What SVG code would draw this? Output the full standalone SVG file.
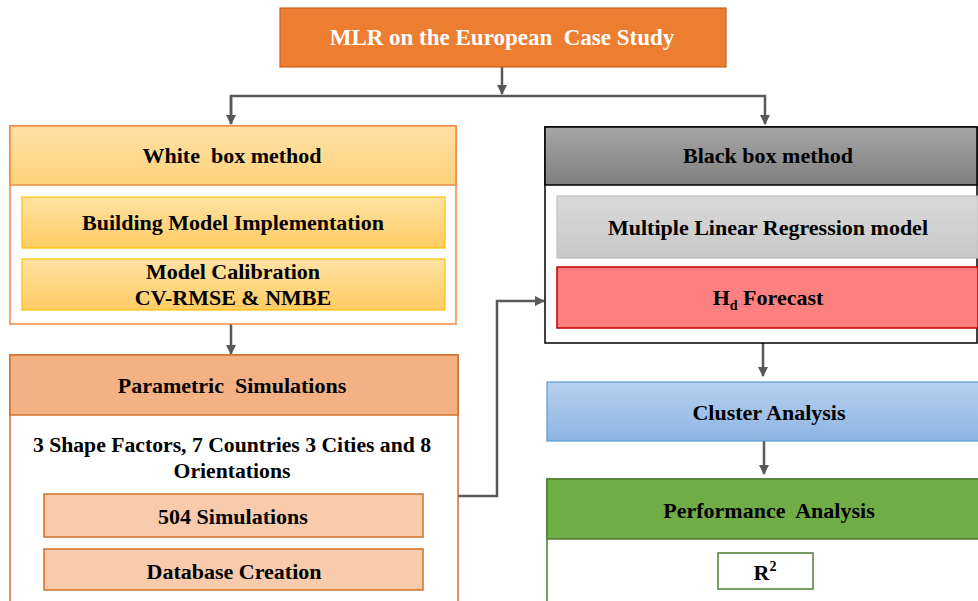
<svg xmlns="http://www.w3.org/2000/svg" width="978" height="601" viewBox="0 0 978 601">
  <style>
    text { font-family: "Liberation Serif", "Times New Roman", serif; font-weight: bold; text-anchor: middle; fill: #000; }
    .t22 { font-size: 22px; }
    .t21 { font-size: 21.7px; }
    .conn { fill: none; stroke: #595959; stroke-width: 2.5; }
  </style>
  <defs>
    <marker id="arrow" viewBox="0 0 10 10" refX="9" refY="5" markerWidth="4" markerHeight="4" orient="auto" markerUnits="strokeWidth">
      <path d="M0,0 L10,5 L0,10 Z" fill="#595959"/>
    </marker>
    <linearGradient id="gGold" x1="0" y1="0" x2="0" y2="1">
      <stop offset="0" stop-color="#FFE1A6"/>
      <stop offset="1" stop-color="#FFD27A"/>
    </linearGradient>
    <linearGradient id="gGoldInner" x1="0" y1="0" x2="0" y2="1">
      <stop offset="0" stop-color="#FFE2A3"/>
      <stop offset="1" stop-color="#FFCC63"/>
    </linearGradient>
    <linearGradient id="gDark" x1="0" y1="0" x2="0" y2="1">
      <stop offset="0" stop-color="#A6A6A6"/>
      <stop offset="1" stop-color="#7F7F7F"/>
    </linearGradient>
    <linearGradient id="gLight" x1="0" y1="0" x2="0" y2="1">
      <stop offset="0" stop-color="#DADADA"/>
      <stop offset="1" stop-color="#C8C8C8"/>
    </linearGradient>
    <linearGradient id="gBlue" x1="0" y1="0" x2="0" y2="1">
      <stop offset="0" stop-color="#B7D0EE"/>
      <stop offset="1" stop-color="#8DB5E3"/>
    </linearGradient>
  </defs>

  <!-- Connectors -->
  <g id="connectors">
    <line class="conn" x1="502" y1="67" x2="502" y2="94" marker-end="url(#arrow)"/>
    <polyline class="conn" points="231,124 231,96 765,96 765,124" marker-end="url(#arrow)"/>
    <line class="conn" x1="231" y1="96" x2="231" y2="124" marker-end="url(#arrow)"/>
    <line class="conn" x1="231" y1="324" x2="231" y2="354" marker-end="url(#arrow)"/>
    <polyline class="conn" points="458,496 497,496 497,301 544,301" marker-end="url(#arrow)"/>
    <line class="conn" x1="763" y1="343" x2="763" y2="376" marker-end="url(#arrow)"/>
    <line class="conn" x1="764" y1="441" x2="764" y2="474" marker-end="url(#arrow)"/>
  </g>

  <!-- Title -->
  <g id="title">
    <rect x="280" y="8" width="446" height="59" fill="#ED7D31" stroke="#C8621E" stroke-width="1.2"/>
    <text x="502" y="45" style="font-size:23px; fill:#fff" xml:space="preserve">MLR on the European  Case Study</text>
  </g>

  <!-- White box method -->
  <g id="white-box">
    <rect x="10" y="126" width="446" height="198" fill="#fff" stroke="#F08A45" stroke-width="1.5"/>
    <rect x="10" y="126" width="446" height="59" fill="url(#gGold)" stroke="#F08A45" stroke-width="1.5"/>
    <text class="t22" x="232" y="163" xml:space="preserve">White  box method</text>
    <rect x="22" y="197" width="423" height="51" fill="url(#gGoldInner)" stroke="#FFC000" stroke-width="1.2"/>
    <text class="t22" x="233" y="230">Building Model Implementation</text>
    <rect x="22" y="259" width="423" height="51" fill="url(#gGoldInner)" stroke="#FFC000" stroke-width="1.2"/>
    <text class="t22" x="233" y="279">Model Calibration</text>
    <text class="t22" x="233" y="305">CV-RMSE &amp; NMBE</text>
  </g>

  <!-- Parametric simulations -->
  <g id="parametric">
    <rect x="10" y="355" width="448" height="260" fill="#fff" stroke="#D0702A" stroke-width="1.5"/>
    <rect x="10" y="355" width="448" height="60" fill="#F4B183" stroke="#D0702A" stroke-width="1.5"/>
    <text class="t22" x="232" y="393" xml:space="preserve">Parametric  Simulations</text>
    <text class="t21" x="232" y="452">3 Shape Factors, 7 Countries 3 Cities and 8</text>
    <text class="t21" x="232" y="478">Orientations</text>
    <rect x="44" y="494" width="379" height="43" fill="#F8CBAD" stroke="#D0702A" stroke-width="1.5"/>
    <text class="t22" x="233" y="524">504 Simulations</text>
    <rect x="44" y="549" width="379" height="41" fill="#F8CBAD" stroke="#D0702A" stroke-width="1.5"/>
    <text class="t22" x="234" y="579">Database Creation</text>
  </g>

  <!-- Black box method -->
  <g id="black-box">
    <rect x="545" y="127" width="432" height="216" fill="#fff" stroke="#000" stroke-width="1.5"/>
    <rect x="545" y="127" width="432" height="58" fill="url(#gDark)" stroke="#000" stroke-width="1.5"/>
    <text class="t22" x="768" y="163">Black box method</text>
    <rect x="557" y="196" width="421" height="62" fill="url(#gLight)" stroke="#BFBFBF" stroke-width="1.2"/>
    <text class="t22" x="768" y="235">Multiple Linear Regression model</text>
    <rect x="557" y="267" width="421" height="61" fill="#FF8080" stroke="#C00000" stroke-width="1.5"/>
    <text class="t22" x="768" y="305">H<tspan style="font-size:14px" dy="5">d</tspan><tspan dy="-5"> Forecast</tspan></text>
  </g>

  <!-- Cluster analysis -->
  <g id="cluster">
    <rect x="547" y="382" width="432" height="59" fill="url(#gBlue)" stroke="#5B9BD5" stroke-width="1.2"/>
    <text class="t22" x="769" y="420">Cluster Analysis</text>
  </g>

  <!-- Performance analysis -->
  <g id="performance">
    <rect x="547" y="479" width="432" height="140" fill="#fff" stroke="#507E32" stroke-width="1.5"/>
    <rect x="547" y="479" width="432" height="60" fill="#70AD47" stroke="#507E32" stroke-width="1.5"/>
    <text class="t22" x="769" y="518" xml:space="preserve">Performance  Analysis</text>
    <rect x="718" y="553" width="95" height="36" fill="#fff" stroke="#507E32" stroke-width="1.5"/>
    <text class="t22" x="765" y="580">R<tspan style="font-size:14px" dy="-9">2</tspan></text>
  </g>
</svg>
